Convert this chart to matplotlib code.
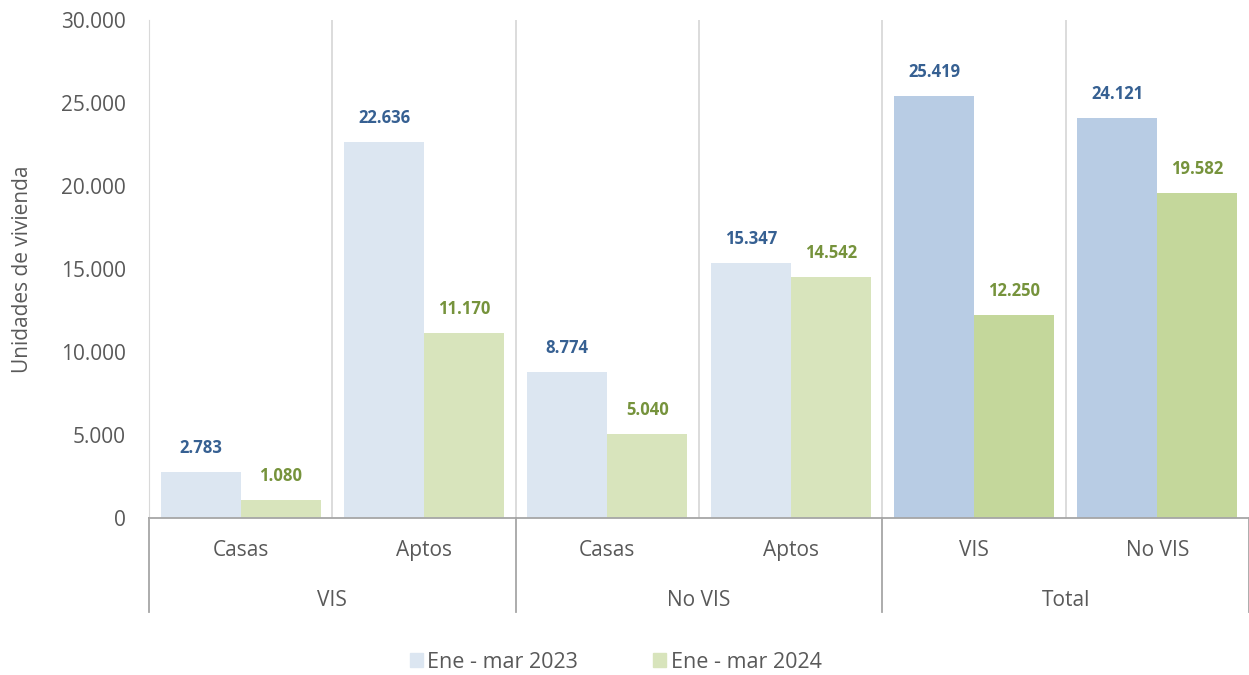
import matplotlib.pyplot as plt
import numpy as np

# data
categories = ["Casas", "Aptos", "Casas", "Aptos", "VIS", "No VIS"]
groups = ["VIS", "No VIS", "Total"]
vals_2023 = [2783, 22636, 8774, 15347, 25419, 24121]
vals_2024 = [1080, 11170, 5040, 14542, 12250, 19582]
series_names = ["Ene - mar 2023", "Ene - mar 2024"]

plt.rcParams['font.family'] = ['Open Sans', 'DejaVu Sans']
gray = "#595959"
c23_light, c23_dark = "#DCE6F1", "#B8CCE4"
c24_light, c24_dark = "#D8E4BC", "#C4D79B"
lab_blue, lab_green = "#366092", "#76933C"


def fmt(v):
    return f"{v:,}".replace(",", ".")


fig = plt.figure(figsize=(12.49, 6.75), dpi=100)
ax = fig.add_axes([0.1193, 0.2326, 0.8807, 0.7378])

x = np.arange(len(categories)) + 0.5
w = 0.436
cols23 = [c23_light] * 4 + [c23_dark] * 2
cols24 = [c24_light] * 4 + [c24_dark] * 2
ax.bar(x - w / 2, vals_2023, w, color=cols23, zorder=2)
ax.bar(x + w / 2, vals_2024, w, color=cols24, zorder=2)

for xi, v in zip(x - w / 2, vals_2023):
    ax.text(xi, v + 900, fmt(v), ha="center", va="bottom", color=lab_blue,
            fontsize=12, fontweight="bold")
for xi, v in zip(x + w / 2, vals_2024):
    ax.text(xi, v + 900, fmt(v), ha="center", va="bottom", color=lab_green,
            fontsize=12, fontweight="bold")

ax.set_xlim(0, 6)
ax.set_ylim(0, 30000)
ax.set_yticks(range(0, 30001, 5000))
ax.set_yticklabels([fmt(t) for t in range(0, 30001, 5000)], color=gray, fontsize=15)
ax.tick_params(axis="y", length=0, pad=16.5)
ax.set_xticks([])
ax.set_ylabel("Unidades de vivienda", color=gray, fontsize=15, labelpad=20)

for s in ["top", "right", "bottom"]:
    ax.spines[s].set_visible(False)
ax.spines["left"].set_color("#D9D9D9")

# vertical gridlines between categories
for xv in range(1, 6):
    ax.axvline(xv, color="#D9D9D9", lw=1.3, zorder=1)

# multi-level category axis
tr = ax.get_xaxis_transform()
ax.plot([0, 6], [0, 0], color="#A6A6A6", lw=1.3, transform=tr, clip_on=False, zorder=3)
for xv in [0, 2, 4, 6]:
    ax.plot([xv, xv], [0, -0.189], color="#A6A6A6", lw=1.3, transform=tr, clip_on=False)
for xi, c in zip(x, categories):
    ax.text(xi, -0.066, c, transform=tr, ha="center", va="center", color=gray, fontsize=15)
for gi, g in enumerate(groups):
    ax.text(gi * 2 + 1, -0.165, g, transform=tr, ha="center", va="center",
            color=gray, fontsize=15)

fig.legend(handles=[plt.Rectangle((0, 0), 1, 1, color=c23_light),
                    plt.Rectangle((0, 0), 1, 1, color=c24_light)],
           labels=series_names, loc="center", bbox_to_anchor=(0.493, 0.019),
           ncol=2, frameon=False, fontsize=15.5, labelcolor=gray,
           handlelength=0.6, handleheight=0.6, handletextpad=0.2, columnspacing=3.5)

fig.savefig("out.png", dpi=100)
